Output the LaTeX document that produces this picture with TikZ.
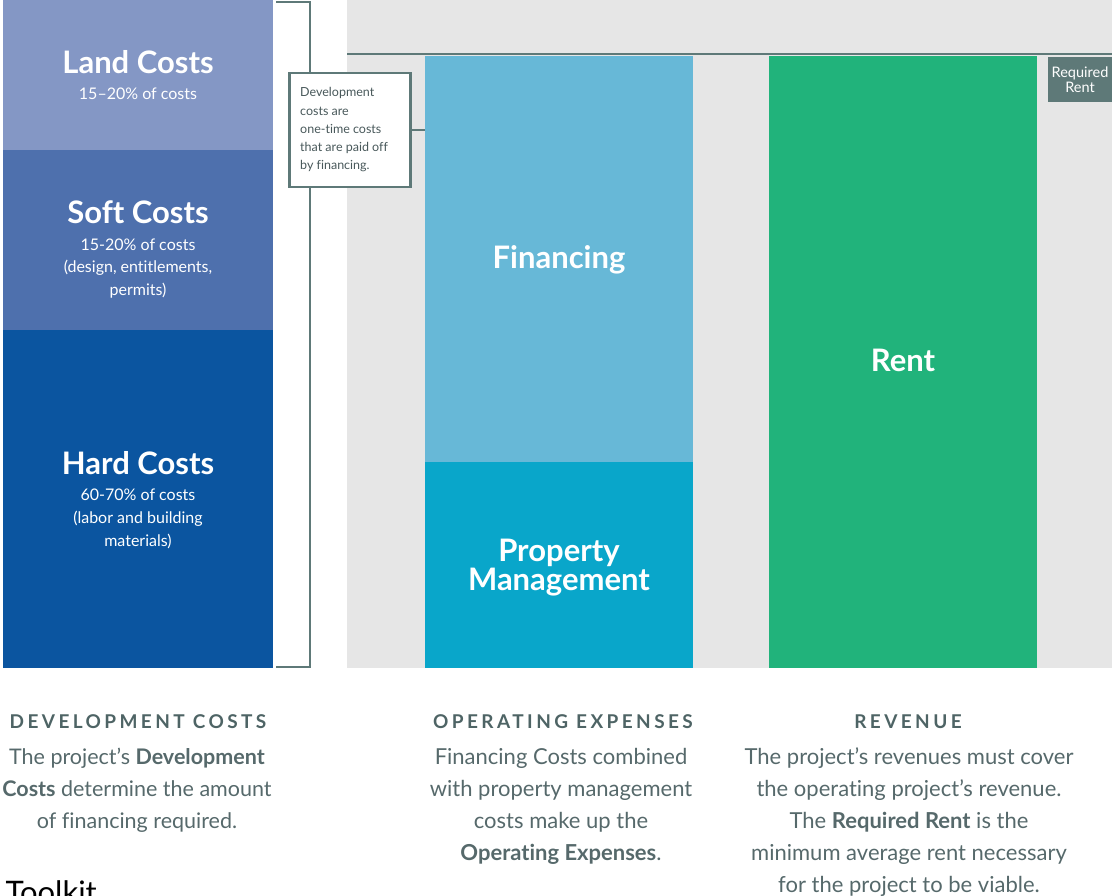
\documentclass[tikz,border=0pt]{standalone}
\usepackage{fontspec}
\setmainfont{Lato}[Ligatures=NoCommon]
\setsansfont{Lato}[Ligatures=NoCommon]
\definecolor{landc}{HTML}{8497C5}
\definecolor{softc}{HTML}{4E70AD}
\definecolor{hardc}{HTML}{0B55A0}
\definecolor{finc}{HTML}{67B8D7}
\definecolor{pmc}{HTML}{09A6CA}
\definecolor{rentc}{HTML}{21B37B}
\definecolor{greybg}{HTML}{E6E6E6}
\definecolor{slate}{HTML}{5E7978}
\definecolor{inkc}{HTML}{56696B}
\definecolor{headc}{HTML}{4E6465}
\newcommand{\fs}[2]{\fontsize{#1}{#2}\selectfont}
\begin{document}
\begin{tikzpicture}[x=1pt,y=-1pt,
  bar/.style={inner sep=0pt, outer sep=0pt, draw=none, anchor=north west},
  title/.style={text=white, anchor=base, font=\bfseries\fs{31}{30}},
  sub/.style={text=white, anchor=base, align=center, font=\fs{16}{23}},
  big/.style={text=white, anchor=base, align=center, font=\bfseries\fs{31}{29}},
  head/.style={text=headc, anchor=base, font=\bfseries\fs{19}{20}\addfontfeatures{LetterSpace=18}},
  body/.style={text=inkc, anchor=base, align=center, font=\fs{22}{32}},
  link/.style={draw=slate, line width=2.5pt}]
\useasboundingbox (0,0) rectangle (1112,896);
\clip (0,0) rectangle (1112,896);

% development cost stack
\node[bar, fill=landc, minimum width=270pt, minimum height=150pt] (land) at (3,0) {};
\node[bar, fill=softc, minimum width=270pt, minimum height=180pt] (soft) at (3,150) {};
\node[bar, fill=hardc, minimum width=270pt, minimum height=338pt] (hard) at (3,330) {};

% multi-line nodes are placed by the baseline of their last line
\node[title] (landT) at (138,74) {Land Costs};
\node[sub] (landS) at (138,100) {15–20\% of costs};
\node[title] (softT) at (138,224) {Soft Costs};
\node[sub] (softS) at (138,296) {15-20\% of costs\\(design, entitlements,\\permits)};
\node[title] (hardT) at (138,474) {Hard Costs};
\node[sub] (hardS) at (138,546) {60-70\% of costs\\(labor and building\\materials)};

% bracket spanning the stack
\coordinate (brTL) at (276,2);
\coordinate (brTR) at (310,2);
\coordinate (brBR) at (310,667);
\coordinate (brBL) at (276,667);
\draw[link] (brTL) -- (brTR) -- (brBR) -- (brBL);

% operating and revenue area
\node[bar, fill=greybg, minimum width=765pt, minimum height=668pt] (bg) at (347,0) {};
\node[bar, fill=finc, minimum width=268pt, minimum height=406pt] (fin) at (425,56) {};
\node[bar, fill=pmc, minimum width=268pt, minimum height=206pt] (pm) at (425,462) {};
\node[bar, fill=rentc, minimum width=268pt, minimum height=612pt] (rent) at (769,56) {};

\coordinate (lineL) at (347,54);
\coordinate (lineR) at (1112,54);
\draw[link] (lineL) -- (lineR);

\node[big] (finT) at (559,269) {Financing};
\node[big] (pmT) at (559,590) {Property\\Management};
\node[big] (rentT) at (903,371) {Rent};

\node[bar, fill=slate, text=white, minimum width=64pt, minimum height=45pt,
      align=center, font=\fs{14.5}{15}] (req) at (1048,57) {Required\\Rent};

% callout note
\node[anchor=north west, draw=slate, line width=2.5pt, fill=white,
      minimum width=121pt, minimum height=114pt, inner sep=0pt] (note) at (288,72) {};
\node[anchor=base west, align=left, inner sep=0pt, text=inkc!85!black, font=\fs{12.5}{18.3}] (noteT) at (300,170)
  {Development\\costs are\\one-time costs\\that are paid off\\by financing.};
\draw[link] (note.east) -- (fin.west |- note.east);

% captions
\node[head] (h1) at (138,728) {DEVELOPMENT COSTS};
\node[head] (h2) at (563,728) {OPERATING EXPENSES};
\node[head] (h3) at (908,728) {REVENUE};

\node[body, font=\fs{21.5}{32}] (b1) at (137,828) {The project’s \textbf{Development}\\\textbf{Costs} determine the amount\\of financing required.};
\node[body] (b2) at (561,860) {Financing Costs combined\\with property management\\costs make up the\\\textbf{Operating Expenses}.};
\node[body] (b3) at (909,892) {The project’s revenues must cover\\the operating project’s revenue.\\The \textbf{Required Rent} is the\\minimum average rent necessary\\for the project to be viable.};

\node[anchor=base west, text=black, font=\fs{31}{34}] (tk) at (2,903) {Toolkit};
\end{tikzpicture}
\end{document}
